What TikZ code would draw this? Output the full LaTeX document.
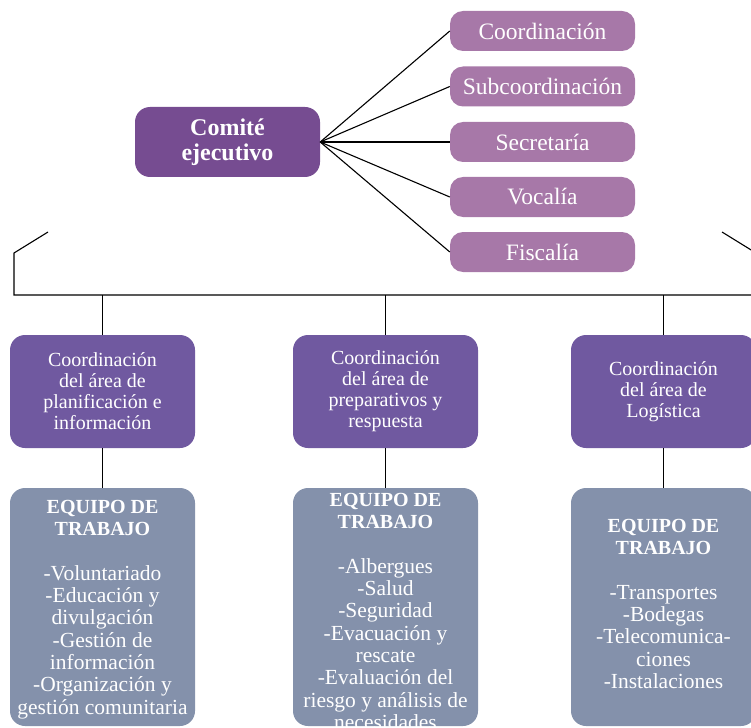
\documentclass[tikz,border=0pt]{standalone}
\usepackage{fontspec}
\setmainfont{Liberation Serif}
\definecolor{cExec}{RGB}{118,76,145}
\definecolor{cRole}{RGB}{167,120,168}
\definecolor{cArea}{RGB}{112,89,160}
\definecolor{cTeam}{RGB}{132,145,171}
\newcommand{\teamhead}[1]{{\fontsize{20}{22.3}\selectfont\bfseries #1}}
\tikzset{
  link/.style={black, line width=1.1pt},
  exec/.style={fill=cExec, rounded corners=15pt, minimum width=185pt, minimum height=70pt,
    text=white, align=center, inner sep=0pt, font=\fontsize{24}{25}\selectfont\bfseries},
  role/.style={fill=cRole, rounded corners=13pt, minimum width=185pt, minimum height=40pt,
    text=white, inner sep=0pt, font=\fontsize{23.5}{25}\selectfont},
  area/.style={fill=cArea, rounded corners=15pt, minimum width=185pt, minimum height=113pt,
    text=white, align=center, inner sep=0pt, font=\fontsize{20}{21}\selectfont},
  team/.style={fill=cTeam, rounded corners=15pt, minimum width=185pt, minimum height=238pt, inner sep=0pt},
  teamtext/.style={text=white, align=center, inner sep=0pt, anchor=north, font=\fontsize{21.5}{22.3}\selectfont},
}
\begin{document}
\begin{tikzpicture}[x=1pt,y=-1pt]
\useasboundingbox (0,0) rectangle (751,727);
\clip (0,0) rectangle (751,727);
% executive committee
\node[exec] (exec) at (227.5,142) {Comité\\ejecutivo};
% roles
\node[role] (r1) at (542.5,31) {Coordinación};
\node[role] (r2) at (542.5,86.5) {Subcoordinación};
\node[role] (r3) at (542.5,142) {Secretaría};
\node[role] (r4) at (542.5,197) {Vocalía};
\node[role] (r5) at (542.5,252) {Fiscalía};
\foreach \r in {r1,r2,r3,r4,r5} \draw[link] (exec.east) -- (\r.west);
% areas
\node[area] (a1) at (102.5,391.5) {Coordinación\\del área de\\planificación e\\información};
\node[area] (a2) at (385.5,391.5) {Coordinación\\del área de\\preparativos y\\respuesta};
\node[area] (a3) at (663.5,391.5) {Coordinación\\del área de\\Logística};
% bus
\coordinate (L1) at (48,232);
\coordinate (L2) at (14,253);
\coordinate (L3) at (14,295);
\coordinate (R1) at (722,232);
\coordinate (R2) at (756,253);
\coordinate (R3) at (756,295);
\draw[link] (L1) -- (L2) -- (L3) -- (R3) -- (R2) -- (R1);
\foreach \a in {a1,a2,a3} {
  \coordinate (d\a) at (\a.north |- L3);
  \draw[link] (d\a) -- (\a.north);
}
% teams
\node[team] (t1) at (102.5,607) {};
\node[team] (t2) at (385.5,607) {};
\node[team] (t3) at (663.5,607) {};
\draw[link] (a1.south) -- (t1.north);
\draw[link] (a2.south) -- (t2.north);
\draw[link] (a3.south) -- (t3.north);
\node[teamtext] (x1) at (102.5,500) {\teamhead{EQUIPO DE}\\\teamhead{TRABAJO}\\[22.3pt]
  -Voluntariado\\-Educación y\\divulgación\\-Gestión de\\información\\-Organización y\\gestión comunitaria};
\node[teamtext] (x2) at (385.5,493) {\teamhead{EQUIPO DE}\\\teamhead{TRABAJO}\\[22.3pt]
  -Albergues\\-Salud\\-Seguridad\\-Evacuación y\\rescate\\-Evaluación del\\riesgo y análisis de\\necesidades};
\node[teamtext] (x3) at (663.5,519) {\teamhead{EQUIPO DE}\\\teamhead{TRABAJO}\\[22.3pt]
  -Transportes\\-Bodegas\\-Telecomunica-\\ciones\\-Instalaciones};
\end{tikzpicture}
\end{document}
